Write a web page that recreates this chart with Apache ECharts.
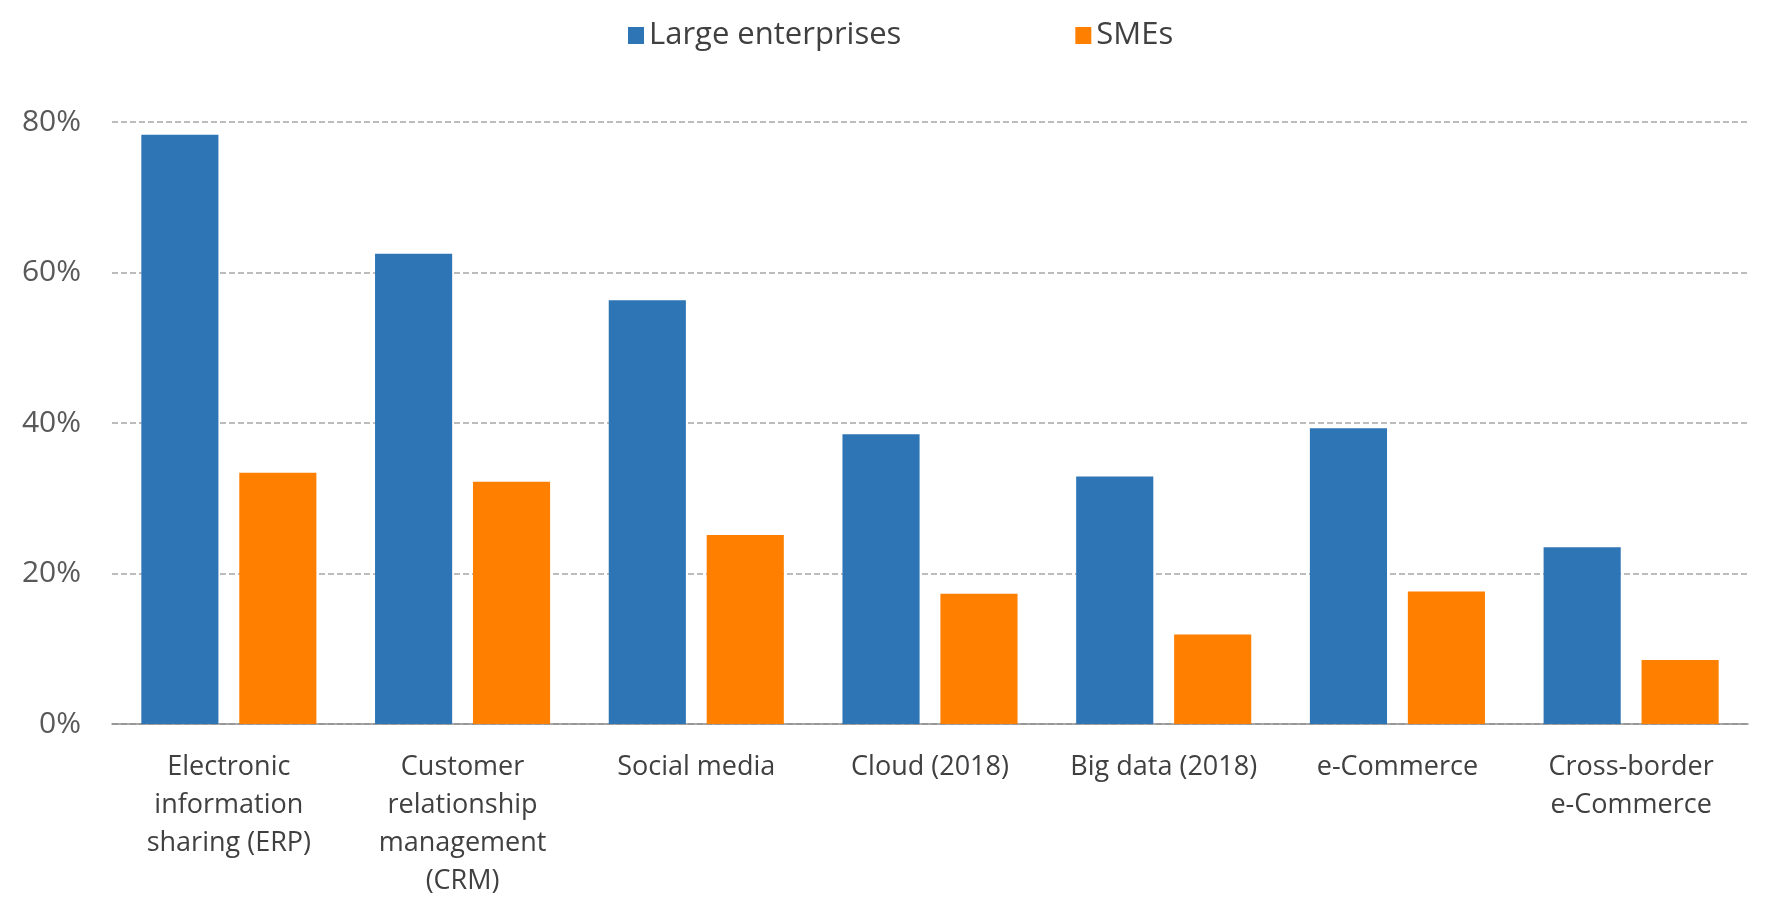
<!DOCTYPE html>
<html>
<head>
<meta charset="utf-8">
<script src="https://cdn.jsdelivr.net/npm/echarts@6/dist/echarts.min.js"></script>
<style>
    html, body { margin: 0; padding: 0; background: #fff; }
    #main { width: 1766px; height: 900px; }
</style>
</head>
<body>
<div id="main"></div>
<script>
// categories on the x axis
var categories = [
    'Electronic\ninformation\nsharing (ERP)',
    'Customer\nrelationship\nmanagement\n(CRM)',
    'Social media',
    'Cloud (2018)',
    'Big data (2018)',
    'e-Commerce',
    'Cross-border\ne-Commerce'
];
var seriesNames = ['Large enterprises', 'SMEs'];
// values in %
var largeValues = [78.3, 62.5, 56.3, 38.5, 32.9, 39.3, 23.5];
var smeValues = [33.4, 32.2, 25.1, 17.3, 11.9, 17.6, 8.5];
var yTicks = [0, 20, 40, 60, 80];

var myChart = echarts.init(document.getElementById('main'));
var font = 'Open Sans';

var option = {
    backgroundColor: '#fff',
    animation: false,
    textStyle: { fontFamily: font },
    legend: {
        data: seriesNames,
        top: 15,
        left: 623,
        itemWidth: 16,
        itemHeight: 17,
        itemGap: 174,
        icon: 'rect',
        textStyle: { fontSize: 31, color: '#404040', fontFamily: font }
    },
    grid: {
        left: 112,
        right: 18,
        top: 122,
        bottom: 174
    },
    xAxis: {
        type: 'category',
        data: categories,
        axisLine: { lineStyle: { color: '#8c8c8c', width: 1.5 } },
        axisTick: { show: false },
        axisLabel: {
            interval: 0,
            margin: 24,
            fontSize: 27,
            lineHeight: 38,
            color: '#404040',
            fontFamily: font
        }
    },
    yAxis: {
        type: 'value',
        min: yTicks[0],
        max: yTicks[yTicks.length - 1],
        interval: 20,
        axisLine: { show: false },
        axisTick: { show: false },
        axisLabel: {
            formatter: '{value}%',
            margin: 31,
            fontSize: 30,
            color: '#595959',
            fontFamily: font
        },
        splitLine: {
            lineStyle: { color: '#a6a6a6', type: 'dashed', width: 1.5 }
        }
    },
    series: [
        {
            name: seriesNames[0],
            type: 'bar',
            data: largeValues,
            barWidth: '33%',
            barGap: '27%',
            itemStyle: { color: '#2E75B6' }
        },
        {
            name: seriesNames[1],
            type: 'bar',
            data: smeValues,
            barWidth: '33%',
            itemStyle: { color: '#FF7F00' }
        }
    ]
};
myChart.setOption(option);
window.addEventListener('resize', () => {
    myChart.resize();
});
</script>
</body>
</html>
